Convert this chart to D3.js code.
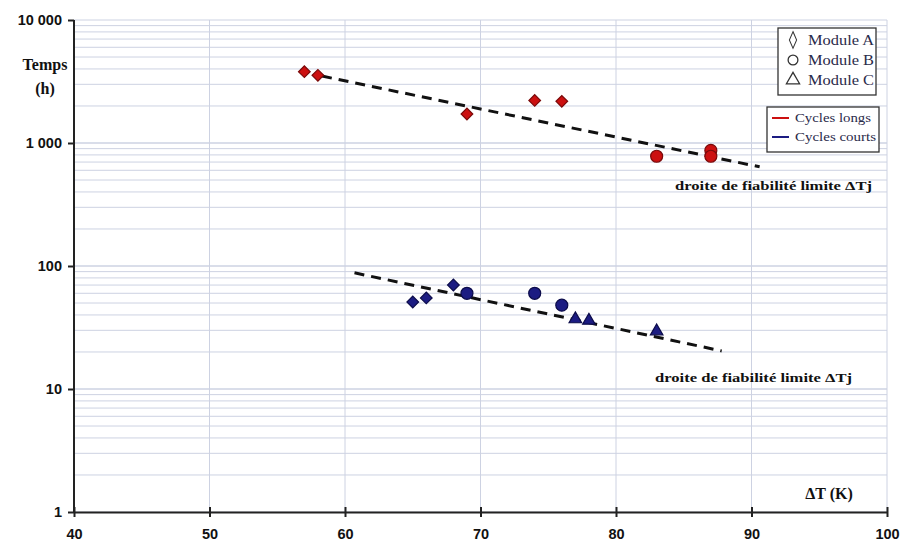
<!DOCTYPE html>
<html><head><meta charset="utf-8">
<script src="https://cdn.jsdelivr.net/npm/d3@7/dist/d3.min.js"></script>
<style>body{margin:0;background:#fff}svg{display:block}</style>
</head><body><svg id="c" width="902" height="543"></svg>
<script>
// Data
const xTicks = [40, 50, 60, 70, 80, 90, 100];
const yTicks = [1, 10, 100, 1000, 10000];
const yTickLabels = ["1", "10", "100", "1 000", "10 000"];

// Cycles longs (red)
const longsA = [[57, 3800], [58, 3550], [69, 1720], [74, 2220], [76, 2180]];
const longsB = [[83, 780], [87, 870], [87, 780]];
const longsFit = [[58.3, 3500], [90.6, 640]];

// Cycles courts (blue)
const courtsA = [[65, 51], [66, 55], [68, 70]];
const courtsB = [[69, 60], [74, 60], [76, 48]];
const courtsC = [[77, 37], [78, 36], [83, 29.5]];
const courtsFit = [[60.7, 88], [87.8, 20.4]];

const legendModules = ["Module A", "Module B", "Module C"];
const legendCycles = ["Cycles longs", "Cycles courts"];

const RED = "#cc1010", RED_D = "#7a0a0a";
const BLUE = "#1c1c82", BLUE_D = "#0c0c4a";

const svg = d3.select("#c");
const x = d3.scaleLinear().domain([40, 100]).range([74, 887]);
const y = d3.scaleLog().domain([1, 10000]).range([512, 20]);

// gridlines
const minor = [];
for (let d = 1; d < 10000; d *= 10) for (let k = 1; k <= 10; k++) minor.push(d * k);
const g = svg.append("g");
g.selectAll("line.h").data(minor).join("line")
  .attr("x1", x(40)).attr("x2", x(100))
  .attr("y1", d => y(d)).attr("y2", d => y(d))
  .attr("stroke", "#cdd2e2").attr("stroke-width", 1);
g.selectAll("line.v").data(xTicks.slice(1)).join("line")
  .attr("x1", d => x(d)).attr("x2", d => x(d))
  .attr("y1", y(1)).attr("y2", y(10000))
  .attr("stroke", "#cdd2e2").attr("stroke-width", 1);

// axes
const xAxis = d3.axisBottom(x).tickValues(xTicks).tickSize(0).tickPadding(17);
const xa = svg.append("g").attr("transform", `translate(0,${y(1)})`).call(xAxis);
xa.select(".domain").attr("stroke", "#222").attr("stroke-width", 2);
xa.selectAll(".tick text").attr("font-family", "Liberation Sans, Arial, sans-serif")
  .attr("font-size", 14.5).attr("font-weight", "bold").attr("fill", "#111");
xa.selectAll(".tick").append("line").attr("y1", -5).attr("y2", 5).attr("stroke", "#222").attr("stroke-width", 2);

const yAxis = d3.axisLeft(y).tickValues(yTicks).tickSize(6).tickPadding(6)
  .tickFormat((d, i) => yTickLabels[i]);
const ya = svg.append("g").attr("transform", `translate(${x(40)},0)`).call(yAxis);
ya.select(".domain").attr("stroke", "#222").attr("stroke-width", 2).attr("d", `M0,${y(1)}V${y(10000)}`);
ya.selectAll(".tick line").attr("stroke", "#222").attr("stroke-width", 2);
ya.selectAll(".tick text").attr("font-family", "Liberation Sans, Arial, sans-serif")
  .attr("font-size", 14.5).attr("font-weight", "bold").attr("fill", "#111");

// axis titles
const serif = "Liberation Serif, DejaVu Serif, serif";
svg.append("text").attr("x", 45).attr("y", 70).attr("text-anchor", "middle")
  .attr("font-family", serif).attr("font-weight", "bold").attr("font-size", 16).attr("fill", "#111").text("Temps");
svg.append("text").attr("x", 45).attr("y", 94).attr("text-anchor", "middle")
  .attr("font-family", serif).attr("font-weight", "bold").attr("font-size", 16).attr("fill", "#111").text("(h)");
svg.append("text").attr("x", 829).attr("y", 499).attr("text-anchor", "middle")
  .attr("font-family", serif).attr("font-weight", "bold").attr("font-size", 16).attr("fill", "#111").text("ΔT (K)");

// fit lines
const line = d3.line().x(d => x(d[0])).y(d => y(d[1]));
[longsFit, courtsFit].forEach(f => {
  svg.append("path").attr("d", line(f)).attr("fill", "none").attr("stroke", "#111")
    .attr("stroke-width", 3).attr("stroke-dasharray", "10,7");
});

// markers
function drawDiamonds(data, fill, stroke) {
  svg.append("g").selectAll("path").data(data).join("path")
    .attr("d", d3.symbol().type(d3.symbolSquare).size(68))
    .attr("transform", d => `translate(${x(d[0])},${y(d[1])}) rotate(45)`)
    .attr("fill", fill).attr("stroke", stroke).attr("stroke-width", 1.2);
}
function drawCircles(data, fill, stroke) {
  svg.append("g").selectAll("circle").data(data).join("circle")
    .attr("cx", d => x(d[0])).attr("cy", d => y(d[1])).attr("r", 6)
    .attr("fill", fill).attr("stroke", stroke).attr("stroke-width", 1.2);
}
function drawTriangles(data, fill, stroke) {
  svg.append("g").selectAll("path").data(data).join("path")
    .attr("d", d3.symbol().type(d3.symbolTriangle).size(68))
    .attr("transform", d => `translate(${x(d[0])},${y(d[1])})`)
    .attr("fill", fill).attr("stroke", stroke).attr("stroke-width", 1.2);
}
drawDiamonds(longsA, RED, RED_D);
drawCircles(longsB, RED, RED_D);
drawDiamonds(courtsA, BLUE, BLUE_D);
drawCircles(courtsB, BLUE, BLUE_D);
drawTriangles(courtsC, BLUE, BLUE_D);

// annotations
svg.append("text").attr("x", 675).attr("y", 190)
  .attr("font-family", serif).attr("font-weight", "bold").attr("font-size", 13).attr("fill", "#111")
  .attr("textLength", 197).attr("lengthAdjust", "spacingAndGlyphs").text("droite de fiabilité limite ΔTj");
svg.append("text").attr("x", 655).attr("y", 382)
  .attr("font-family", serif).attr("font-weight", "bold").attr("font-size", 13).attr("fill", "#111")
  .attr("textLength", 197).attr("lengthAdjust", "spacingAndGlyphs").text("droite de fiabilité limite ΔTj");

// legend 1
svg.append("rect").attr("x", 778).attr("y", 28).attr("width", 98).attr("height", 67)
  .attr("fill", "#fff").attr("stroke", "#333").attr("stroke-width", 1.3);
const legY = [40, 60, 80];
const legSym = [d3.symbolDiamond, d3.symbolCircle, d3.symbolTriangle];
legendModules.forEach((t, i) => {
  svg.append("path").attr("transform", `translate(793,${legY[i]})${i === 0 ? " scale(0.75,1)" : ""}`)
    .attr("d", d3.symbol().type(legSym[i]).size(i === 0 ? 80 : 75))
    .attr("fill", "none").attr("stroke", "#333").attr("stroke-width", 1.3);
  svg.append("text").attr("x", 808).attr("y", legY[i] + 5).attr("font-family", serif)
    .attr("font-size", 14).attr("fill", "#2a2a4a")
    .attr("textLength", 66).attr("lengthAdjust", "spacingAndGlyphs").text(t);
});
// legend 2
svg.append("rect").attr("x", 767).attr("y", 107).attr("width", 112).attr("height", 45)
  .attr("fill", "#fff").attr("stroke", "#333").attr("stroke-width", 1.3);
const leg2Y = [118, 137];
const leg2C = [RED, BLUE];
const leg2W = [76, 81];
legendCycles.forEach((t, i) => {
  svg.append("line").attr("x1", 772).attr("x2", 789).attr("y1", leg2Y[i]).attr("y2", leg2Y[i])
    .attr("stroke", leg2C[i]).attr("stroke-width", 2);
  svg.append("text").attr("x", 795).attr("y", leg2Y[i] + 4).attr("font-family", serif)
    .attr("font-size", 13.5).attr("fill", "#2a2a4a")
    .attr("textLength", leg2W[i]).attr("lengthAdjust", "spacingAndGlyphs").text(t);
});
</script></body></html>
